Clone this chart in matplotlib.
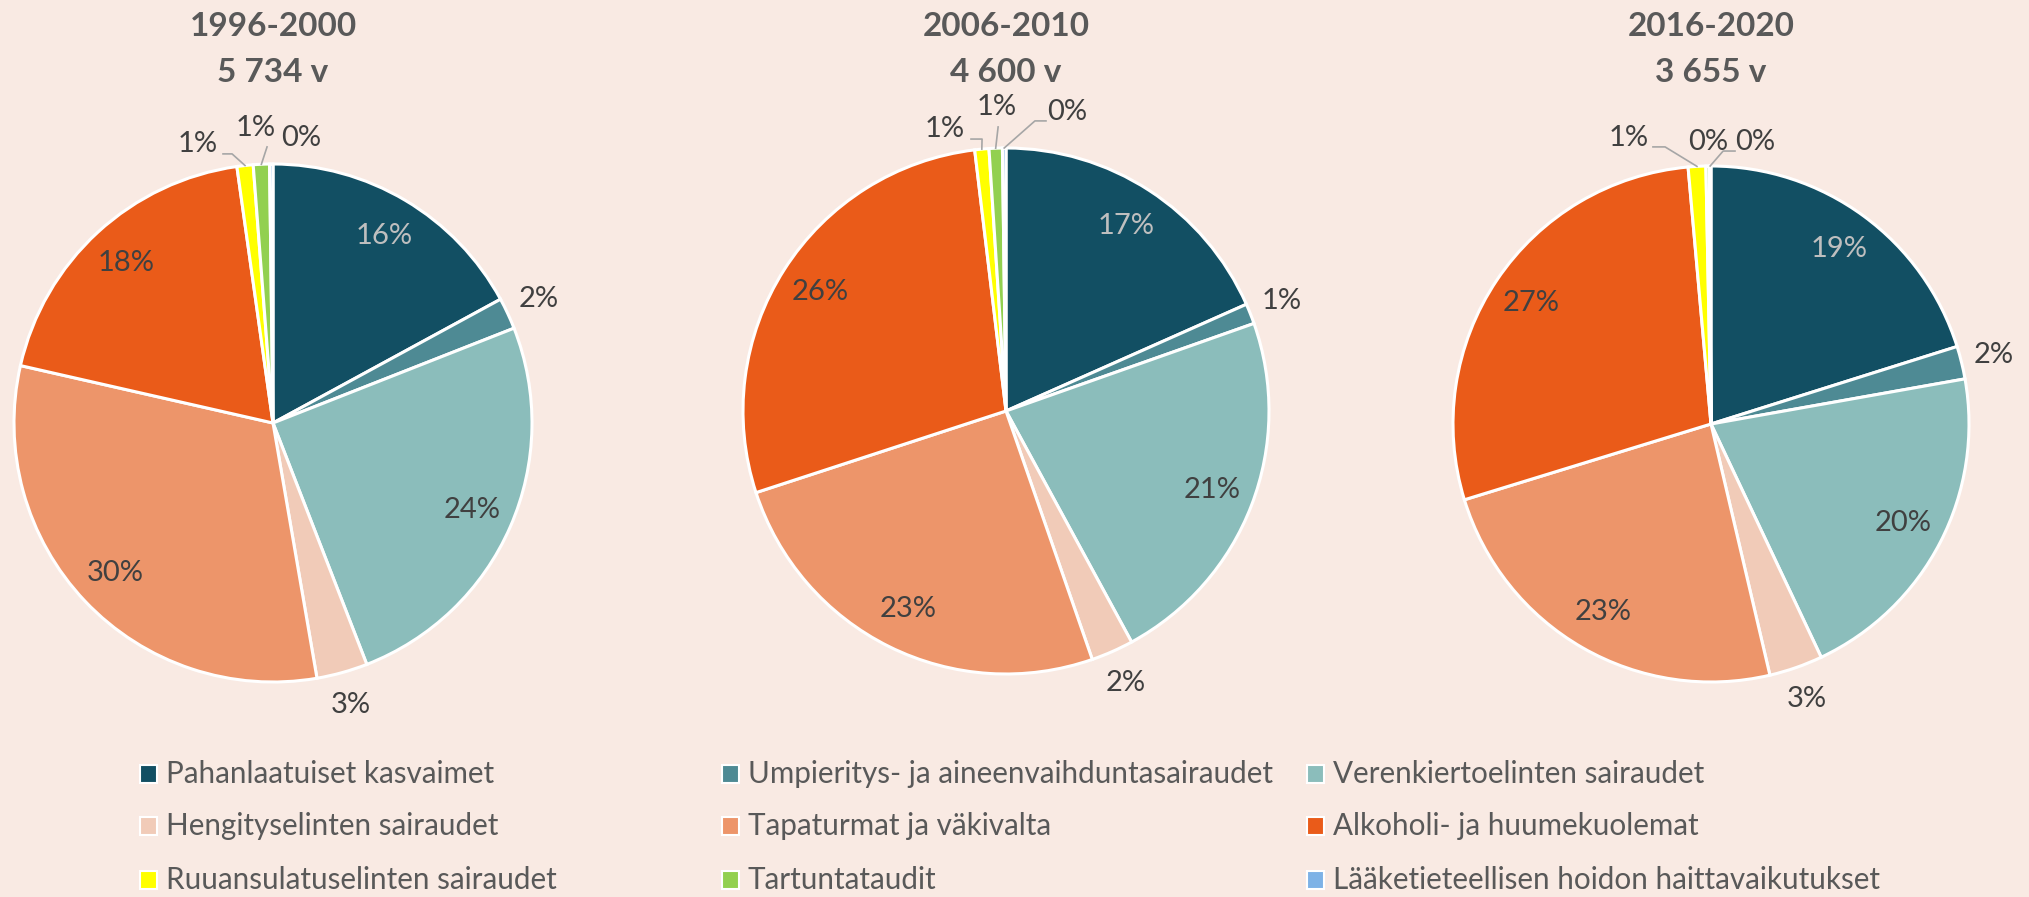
import numpy as np
import matplotlib.pyplot as plt
from matplotlib.patches import Rectangle

plt.rcParams['font.family'] = ['Lato', 'DejaVu Sans']

## data (share of deaths, %)
categories = ['Pahanlaatuiset kasvaimet', 'Umpieritys- ja aineenvaihduntasairaudet',
              'Verenkiertoelinten sairaudet', 'Hengityselinten sairaudet',
              'Tapaturmat ja väkivalta', 'Alkoholi- ja huumekuolemat',
              'Ruuansulatuselinten sairaudet', 'Tartuntataudit',
              'Lääketieteellisen hoidon haittavaikutukset']
periods = ['1996-2000', '2006-2010', '2016-2020']
totals = ['5 734 v', '4 600 v', '3 655 v']
shares_1996 = [16.25, 1.87, 23.86, 3.03, 29.77, 18.29, 0.96, 0.96, 0.2]
shares_2006 = [16.9, 1.15, 20.7, 2.4, 23.3, 25.9, 0.8, 0.75, 0.2]
shares_2016 = [19.2, 1.96, 19.8, 3.2, 22.8, 27.0, 1.05, 0.2, 0.1]

colors = ['#124F63', '#4E8A94', '#8BBDBB', '#F1CBB8', '#ED956A',
          '#EA5B19', '#FFFF00', '#92D050', '#7DB2E6']
BG = '#F9EAE3'
DARK = '#404040'
GREY = '#595959'

W, H = 2029, 897
fig = plt.figure(figsize=(W / 100, H / 100), dpi=100, facecolor=BG)

## pie centre x, centre y (from top) and radius, in pixels
layout = [(273, 423, 259), (1006, 411, 263), (1711, 424, 258)]
K = 1.35

## labels of the thin slices at the top: position and leader line start
top_labels = [
    {6: ((-0.29, 1.077), [(-0.193, 1.039), (-0.158, 1.039)]),
     7: ((-0.066, 1.139), [(-0.023, 1.066)]),
     8: ((0.108, 1.10), None)},
    {6: ((-0.232, 1.072), [(-0.133, 1.034), (-0.091, 1.034)]),
     7: ((-0.034, 1.156), [(-0.03, 1.08)]),
     8: ((0.232, 1.137), [(0.152, 1.103), (0.11, 1.103)])},
    {6: ((-0.318, 1.109), [(-0.225, 1.074), (-0.178, 1.074)]),
     7: ((-0.012, 1.093), None),
     8: ((0.17, 1.093), [(0.093, 1.058), (0.047, 1.058)])},
]

for shares, period, total, (cx, cy, R), tops in zip(
        [shares_1996, shares_2006, shares_2016], periods, totals, layout, top_labels):
    side = 2 * R * K
    ax = fig.add_axes([(cx - side / 2) / W, 1 - (cy + side / 2) / H, side / W, side / H])
    wedges, _ = ax.pie(shares, colors=colors, startangle=90, counterclock=False,
                       radius=1, wedgeprops=dict(edgecolor='white', linewidth=2.2))
    # pie() resets the limits, so set them afterwards
    ax.set_xlim(-K, K)
    ax.set_ylim(-K, K)
    ax.axis('off')
    for i, (w, v) in enumerate(zip(wedges, shares)):
        mid = np.deg2rad((w.theta1 + w.theta2) / 2)
        txt = f'{v:.0f}%'
        if i in tops:
            (lx, ly), lead = tops[i]
            ax.text(lx, ly, txt, ha='center', va='center', fontsize=21, color=DARK)
            if lead:
                pts = lead + [(np.cos(mid), np.sin(mid))]
                ax.plot([p[0] for p in pts], [p[1] for p in pts], color='#A6A6A6',
                        lw=1.2, clip_on=False)
        elif i in (1, 3):
            ax.text(1.13 * np.cos(mid), 1.13 * np.sin(mid), txt, ha='center',
                    va='center', fontsize=21, color=DARK)
        else:
            ax.text(0.84 * np.cos(mid), 0.84 * np.sin(mid), txt, ha='center',
                    va='center', fontsize=21, color='#BFBFBF' if i == 0 else DARK)
    fig.text(cx / W, 1 - 27 / H, period, ha='center', va='center', fontsize=24,
             fontweight='bold', color=GREY)
    fig.text(cx / W, 1 - 73 / H, total, ha='center', va='center', fontsize=24,
             fontweight='bold', color=GREY)

## legend, three rows by three columns
col_x = [140, 722, 1307]
row_y = [774, 826, 880]
for i, (name, c) in enumerate(zip(categories, colors)):
    x = col_x[i % 3]
    y = row_y[i // 3]
    fig.add_artist(Rectangle((x / W, 1 - (y + 9) / H), 17 / W, 18 / H,
                             transform=fig.transFigure, facecolor=c,
                             edgecolor='white', linewidth=1.5))
    fig.text((x + 26) / W, 1 - y / H, name, ha='left', va='center',
             fontsize=21.3, color=GREY)

fig.savefig('out.png', dpi=100, facecolor=BG)
